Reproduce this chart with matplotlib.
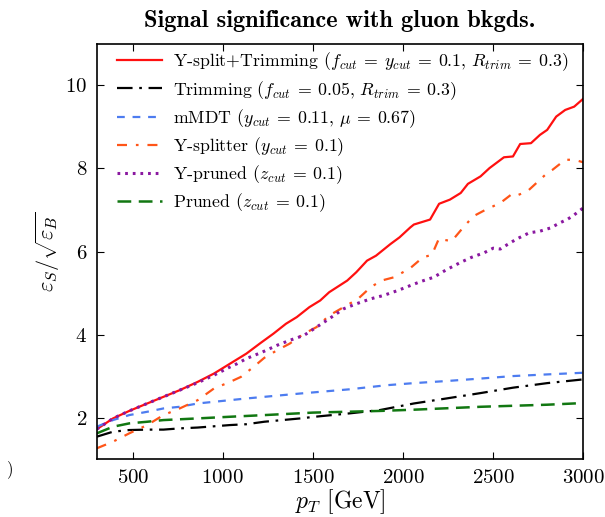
import matplotlib
matplotlib.use("Agg")
import matplotlib.pyplot as plt

plt.rcParams['font.family'] = 'serif'
plt.rcParams['font.serif'] = ['cmr10']
plt.rcParams['mathtext.fontset'] = 'cm'
plt.rcParams['axes.unicode_minus'] = False
plt.rcParams['axes.formatter.use_mathtext'] = True

# Y-split+Trimming
x_yst = [300, 390, 480, 580, 670, 760, 860, 950, 1040, 1130, 1210, 1280, 1350, 1410, 1480, 1540,
         1590, 1690, 1740, 1800, 1850, 1930, 1980, 2040, 2060, 2150, 2200, 2260, 2320, 2360, 2430,
         2480, 2560, 2610, 2650, 2710, 2760, 2800, 2850, 2900, 2950, 3000]
y_yst = [1.72, 1.98, 2.16, 2.34, 2.50, 2.66, 2.86, 3.06, 3.30, 3.54, 3.80, 4.02, 4.26, 4.42, 4.66, 4.82,
         5.02, 5.30, 5.50, 5.78, 5.90, 6.18, 6.34, 6.58, 6.65, 6.77, 7.15, 7.25, 7.41, 7.63, 7.81,
         8.01, 8.27, 8.29, 8.59, 8.61, 8.81, 8.93, 9.25, 9.41, 9.49, 9.68]

# Trimming
x_trim = [300, 390, 480, 580, 670, 760, 860, 950, 1040, 1130, 1230, 1430, 1510, 1700, 1870, 2060,
          2240, 2430, 2610, 2800, 3000]
y_trim = [1.54, 1.66, 1.70, 1.71, 1.71, 1.74, 1.76, 1.79, 1.82, 1.84, 1.90, 1.98, 2.02, 2.10, 2.18, 2.34,
          2.46, 2.59, 2.72, 2.83, 2.92]

# mMDT
x_mmdt = [300, 390, 480, 580, 670, 760, 860, 950, 1040, 1130, 1230, 1430, 1700, 1910, 2060, 2240,
          2430, 2610, 2800, 3000]
y_mmdt = [1.78, 1.94, 2.06, 2.14, 2.22, 2.26, 2.34, 2.38, 2.42, 2.46, 2.50, 2.58, 2.68, 2.78, 2.83, 2.88,
          2.94, 3.00, 3.04, 3.08]

# Y-splitter
x_ysp = [300, 390, 480, 580, 670, 760, 860, 950, 1040, 1100, 1170, 1230, 1300, 1370, 1450, 1520,
         1590, 1670, 1750, 1820, 1880, 1950, 2040, 2110, 2160, 2200, 2230, 2270, 2330, 2390, 2460,
         2540, 2600, 2620, 2690, 2740, 2800, 2830, 2900, 2950, 3000]
y_ysp = [1.26, 1.42, 1.62, 1.82, 2.06, 2.22, 2.42, 2.70, 2.86, 2.98, 3.22, 3.44, 3.62, 3.78, 4.02, 4.18,
         4.46, 4.66, 4.86, 5.14, 5.30, 5.38, 5.60, 5.86, 5.92, 6.32, 6.28, 6.25, 6.56, 6.85, 7.01,
         7.17, 7.37, 7.33, 7.45, 7.65, 7.89, 7.97, 8.21, 8.21, 8.15]

# Y-pruned
x_ypr = [300, 390, 480, 580, 670, 760, 860, 950, 1040, 1080, 1130, 1220, 1300, 1370, 1450, 1520,
         1590, 1670, 1740, 1820, 1890, 1970, 2040, 2100, 2170, 2240, 2320, 2380, 2450, 2500, 2540,
         2580, 2630, 2700, 2760, 2820, 2870, 2910, 2940, 3000]
y_ypr = [1.72, 1.98, 2.16, 2.34, 2.50, 2.66, 2.84, 3.02, 3.22, 3.30, 3.42, 3.58, 3.74, 3.86, 3.98, 4.18,
         4.38, 4.62, 4.74, 4.86, 4.94, 5.06, 5.18, 5.28, 5.38, 5.56, 5.74, 5.86, 5.97, 6.08, 6.06,
         6.17, 6.30, 6.45, 6.49, 6.57, 6.69, 6.77, 6.85, 7.05]

# Pruned
x_pr = [300, 390, 480, 580, 670, 860, 1040, 1230, 1500, 1870, 2060, 2430, 2800, 3000]
y_pr = [1.62, 1.78, 1.86, 1.90, 1.94, 1.98, 2.02, 2.06, 2.12, 2.16, 2.19, 2.26, 2.31, 2.35]

labels = [
    r'Y-split+Trimming $(f_{cut}\:=\:y_{cut}\:=\:0.1,\,R_{trim}\:=\:0.3)$',
    r'Trimming $(f_{cut}\:=\:0.05,\,R_{trim}\:=\:0.3)$',
    r'mMDT $(y_{cut}\:=\:0.11,\,\mu\:=\:0.67)$',
    r'Y-splitter $(y_{cut}\:=\:0.1)$',
    r'Y-pruned $(z_{cut}\:=\:0.1)$',
    r'Pruned $(z_{cut}\:=\:0.1)$',
]
xticks = [500, 1000, 1500, 2000, 2500, 3000]
yticks = [2, 4, 6, 8, 10]

fig = plt.figure(figsize=(6.05, 5.17), dpi=100)
ax = fig.add_axes([0.160, 0.112, 0.804, 0.803])

lw = 1.6
ax.plot(x_yst, y_yst, color='#ff1010', lw=lw, ls='-', label=labels[0])
ax.plot(x_trim, y_trim, color='black', lw=lw, ls=(0, (7, 3, 1.2, 3)), label=labels[1])
ax.plot(x_mmdt, y_mmdt, color='#4d7cf0', lw=lw, ls=(0, (3.5, 3.5)), label=labels[2])
ax.plot(x_ysp, y_ysp, color='#ff5518', lw=lw, ls=(0, (4.5, 4, 1.2, 4)), label=labels[3])
ax.plot(x_ypr, y_ypr, color='#8a18a0', lw=2.2, ls=(0, (0.9, 1.6)), label=labels[4])
ax.plot(x_pr, y_pr, color='#117711', lw=1.8, ls=(0, (5.5, 3)), label=labels[5])

ax.set_xlim(300, 3000)
ax.set_ylim(1, 11)
ax.set_xticks(xticks)
ax.set_yticks(yticks)
ax.tick_params(direction='in', top=True, right=True, length=5, labelsize=15, pad=7)
for s in ax.spines.values():
    s.set_linewidth(1.2)

ax.set_xlabel(r'$p_T$ [GeV]', fontsize=17, labelpad=0)
ax.set_ylabel(r'$\varepsilon_S/\sqrt{\varepsilon_B}$', fontsize=16, labelpad=2)
ax.set_title('Signal significance with gluon bkgds.', fontsize=17.5, fontfamily='cmb10', pad=12)

ax.legend(loc='upper left', bbox_to_anchor=(0.037, 0.99), frameon=False, fontsize=12.8,
          handlelength=2.5, labelspacing=0.3, borderaxespad=0.0, handletextpad=0.6,
          borderpad=0.15)

fig.text(0.012, 0.085, ')', fontsize=12)

fig.savefig('out.png', dpi=100)
